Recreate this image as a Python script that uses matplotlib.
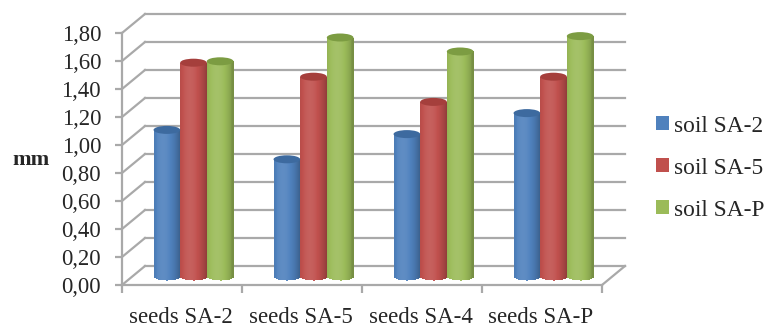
import matplotlib
matplotlib.use("Agg")
import matplotlib.pyplot as plt
import numpy as np
from matplotlib.colors import to_rgb
from matplotlib.patches import Ellipse, Patch

plt.rcParams['font.family'] = ['Liberation Serif', 'DejaVu Serif']

# values
categories = ["seeds SA-2", "seeds SA-5", "seeds SA-4", "seeds SA-P"]
series_names = ["soil SA-2", "soil SA-5", "soil SA-P"]
soil_sa2 = [1.04, 0.83, 1.01, 1.16]
soil_sa5 = [1.52, 1.42, 1.24, 1.42]
soil_sap = [1.53, 1.70, 1.60, 1.71]
y_ticks = [0.0, 0.2, 0.4, 0.6, 0.8, 1.0, 1.2, 1.4, 1.6, 1.8]

colors = ["#4f81bd", "#c0504d", "#9bbb59"]
tops = ["#3d6a9f", "#a53f3c", "#7c9c42"]
GRID = "#a9a9a9"
TEXT = "#262626"

W, H = 775, 328
fig = plt.figure(figsize=(W / 100, H / 100), dpi=100, facecolor="white")
# the axes is the front plane of the fake 3D box
ax = fig.add_axes([122 / W, 1 - 285 / H, 480 / W, 252 / H])
ax.set_xlim(0, 4)
ax.set_ylim(0, 1.8)

# depth of the box, in data units
DX = 23 / 120
DY = 19 / 140

# back wall and left/right floor edges
for v in y_ticks:
    ax.plot([DX, 4 + DX], [v + DY, v + DY], color=GRID, lw=1.6, clip_on=False, zorder=1)
    ax.plot([0, DX], [v, v + DY], color=GRID, lw=1.6, clip_on=False, zorder=1)
ax.plot([4, 4 + DX], [0, DY], color=GRID, lw=1.6, clip_on=False, zorder=1)

BAR_W = 0.222
STRIPS = 27
CAP = 8 / 140


def shade(color, t):
    # t goes -1..1 over the cylinder, light a bit left of the middle
    rgb = np.array(to_rgb(color))
    k = 1.06 - 0.2 * (t + 0.25) ** 2
    if k > 1:
        return tuple(rgb + (1 - rgb) * (k - 1) * 1.5)
    return tuple(rgb * k)


def cylinder(xc, val, color, top):
    base = DY / 2
    for i in range(STRIPS):
        t = -1 + 2 * (i + 0.5) / STRIPS
        x0 = xc - BAR_W / 2 + i * BAR_W / STRIPS
        drop = CAP / 2 * np.sqrt(1 - t * t)
        c = shade(color, t)
        ax.bar(x0, val + drop, BAR_W / STRIPS, bottom=base - drop, align="edge",
               color=c, edgecolor=c, linewidth=0.5, antialiased=False,
               clip_on=False, zorder=3)
    ax.add_patch(Ellipse((xc, base + val), BAR_W, CAP, facecolor=top,
                         edgecolor="none", clip_on=False, zorder=4))


for g, vals in enumerate(zip(soil_sa2, soil_sa5, soil_sap)):
    for s, val in enumerate(vals):
        xc = g + 0.5 + DX / 2 + (s - 1) * BAR_W
        cylinder(xc, val, colors[s], tops[s])

for side in ["top", "right"]:
    ax.spines[side].set_visible(False)
for side in ["left", "bottom"]:
    ax.spines[side].set_color(GRID)
    ax.spines[side].set_linewidth(1.6)
    ax.spines[side].set_zorder(2)

ax.set_yticks(y_ticks)
ax.set_yticklabels([f"{v:.2f}".replace(".", ",") for v in y_ticks],
                   fontsize=16.4, color=TEXT)
ax.tick_params(axis="y", length=5, width=1.6, color=GRID, pad=10)

ax.set_xticks([0, 1, 2, 3, 4])
ax.set_xticklabels([])
ax.tick_params(axis="x", which="major", length=6, width=1.6, color=GRID)
# labels sit slightly left of the group centres
ax.set_xticks([0.488, 1.488, 2.488, 3.488], minor=True)
ax.set_xticklabels(categories, minor=True, fontsize=16.5, color=TEXT)
ax.tick_params(axis="x", which="minor", length=0, pad=16)

ax.set_ylabel("mm", rotation=0, fontsize=16, fontweight="bold", color=TEXT,
              ha="center", va="center")
ax.yaxis.set_label_coords((31 - 122) / 480, (285 - 160) / 252)

handles = [Patch(facecolor=c, edgecolor="none") for c in colors]
fig.legend(handles, series_names, loc="center left",
           bbox_to_anchor=(647 / W, 1 - 168 / H), frameon=False, fontsize=16.8,
           labelcolor=TEXT, handlelength=0.56, handleheight=0.56, handletextpad=0.2,
           labelspacing=0.9, borderpad=0, borderaxespad=0.4)

fig.savefig("out.png", dpi=100, facecolor="white")
